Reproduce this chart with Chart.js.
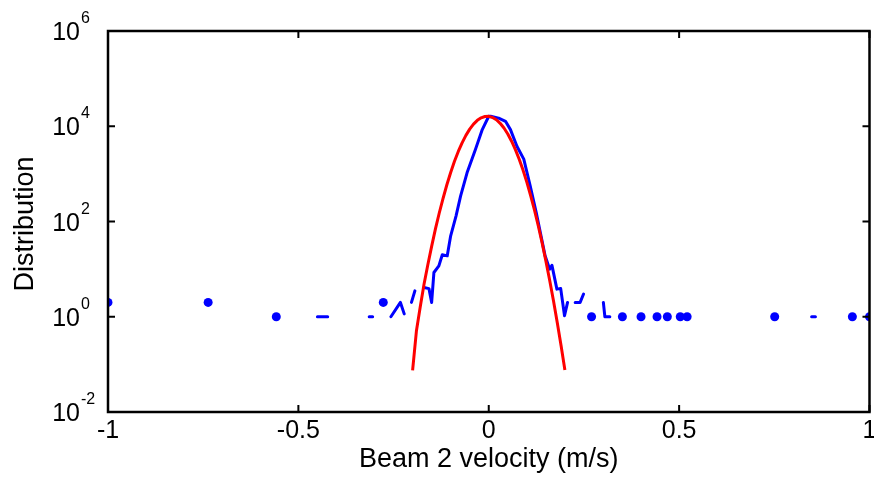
<!DOCTYPE html>
<html>
<head>
<meta charset="utf-8">
<script src="https://cdn.jsdelivr.net/npm/chart.js@4.4.1/dist/chart.umd.min.js"></script>
<style>
  html, body { margin: 0; padding: 0; background: #fff; }
  canvas { display: block; }
</style>
</head>
<body>
<canvas id="chart" width="874" height="488"></canvas>
<script>
// axis ticks
var xTicks = [-1, -0.5, 0, 0.5, 1];
var xTickLabels = ['-1', '-0.5', '0', '0.5', '1'];
var yTicks = [1e-2, 1e0, 1e2, 1e4, 1e6];
var yTickExps = ['-2', '0', '2', '4', '6'];

// measured histogram (null = empty bin, breaks the line)
var blueX = [-1.000, -0.86, -0.737, -0.65, -0.558, -0.50, -0.450, -0.423, -0.36, -0.314, -0.305, -0.29,
  -0.277, -0.267, -0.257, -0.232, -0.222, -0.212, -0.203, -0.194, -0.18,
  -0.170, -0.157, -0.150, -0.144, -0.131, -0.122, -0.109, -0.100, -0.086, -0.074, -0.057, -0.035, -0.017,
  0.000, 0.005, 0.026, 0.044, 0.057, 0.074, 0.092, 0.109, 0.125, 0.148, 0.160, 0.166, 0.179, 0.189, 0.199, 0.207,
  0.217, 0.227, 0.240, 0.249, 0.26, 0.270, 0.285, 0.301, 0.305, 0.318, 0.33, 0.351, 0.37, 0.400, 0.42, 0.442,
  0.455, 0.469, 0.485, 0.503, 0.512, 0.521, 0.64, 0.751, 0.80, 0.848, 0.858, 0.90, 0.955, 0.98, 1.000];
var blueY = [2, null, 2, null, 1, null, 1, 1, null, 1, 1, null,
  2, null, 1, 2, 1.15, null, 2, 3.5, null,
  4.1, 3.9, 2, 8.5, 11.7, 20, 19, 50, 130, 340, 1050, 3240, 8500,
  16200, 16200, 14800, 12700, 8500, 3800, 2040, 553, 150, 19, 10, 12, 3.8, 3.9, 1.05, 2,
  null, 2, 2, 3, null, 1, null, 2, 1, 1, null, 1, null, 1, null, 1,
  null, 1, null, 1, null, 1, null, 1, null, 1, 1, null, 1, null, 1];

// fitted curve
var redX = [-0.20, -0.19, -0.18, -0.17, -0.16, -0.15, -0.14, -0.13, -0.12, -0.11, -0.10,
  -0.09, -0.08, -0.07, -0.06, -0.05, -0.04, -0.03, -0.02, -0.01, 0.00,
  0.01, 0.02, 0.03, 0.04, 0.05, 0.06, 0.07, 0.08, 0.09, 0.10,
  0.11, 0.12, 0.13, 0.14, 0.15, 0.16, 0.17, 0.18, 0.19, 0.20];
var redY = [0.075, 0.5, 1.6, 4.8, 12.4, 30, 70, 151, 307, 591, 1072,
  1834, 2955, 4490, 6436, 8690, 11070, 13290, 15040, 16040, 16140,
  15310, 13680, 11530, 9170, 6870, 4850, 3230, 2030, 1200, 670,
  352, 175, 82, 36, 14.9, 5.85, 2.16, 0.75, 0.247, 0.076];

var FONT = '"Liberation Sans", Arial, Helvetica, sans-serif';

function pairs(xs, ys) {
    return xs.map(function (x, i) { return {x: x, y: ys[i]}; });
}

var frame = {
    id: 'frame',
    afterDatasetsDraw: function (chart) {
        var ctx = chart.ctx, a = chart.chartArea;
        var xs = chart.scales.x, ys = chart.scales.y;
        ctx.save();
        ctx.strokeStyle = '#000';
        ctx.lineWidth = 2;
        ctx.beginPath();
        xTicks.forEach(function (v) {
            var px = xs.getPixelForValue(v);
            ctx.moveTo(px, a.bottom); ctx.lineTo(px, a.bottom - 7);
            ctx.moveTo(px, a.top); ctx.lineTo(px, a.top + 7);
        });
        yTicks.forEach(function (v) {
            var py = ys.getPixelForValue(v);
            ctx.moveTo(a.left, py); ctx.lineTo(a.left + 7, py);
            ctx.moveTo(a.right, py); ctx.lineTo(a.right - 7, py);
        });
        ctx.stroke();
        ctx.lineWidth = 2.5;
        ctx.strokeRect(a.left, a.top, a.right - a.left, a.bottom - a.top);

        ctx.fillStyle = '#000';
        ctx.textBaseline = 'alphabetic';
        ctx.textAlign = 'center';
        ctx.font = '25px ' + FONT;
        xTicks.forEach(function (v, i) {
            ctx.fillText(xTickLabels[i], xs.getPixelForValue(v), a.bottom + 26);
        });
        yTicks.forEach(function (v, i) {
            var py = ys.getPixelForValue(v);
            ctx.textAlign = 'right';
            ctx.font = '25px ' + FONT;
            ctx.fillText('10', 80, py + 9);
            ctx.textAlign = 'left';
            ctx.font = '16px ' + FONT;
            ctx.fillText(yTickExps[i], 81, py - 8);
        });

        ctx.font = '27px ' + FONT;
        ctx.textAlign = 'center';
        ctx.fillText('Beam 2 velocity (m/s)', (a.left + a.right) / 2, 467);
        ctx.translate(33, 224);
        ctx.rotate(-Math.PI / 2);
        ctx.fillText('Distribution', 0, 0);
        ctx.restore();
    }
};

function isolated(i) {
    if (blueY[i] == null) return false;
    return blueY[i - 1] == null && blueY[i + 1] == null;
}

new Chart(document.getElementById('chart'), {
    type: 'line',
    data: {
        datasets: [{
            label: 'fit',
            data: pairs(redX, redY),
            borderColor: '#ff0000',
            borderWidth: 3,
            pointRadius: 0,
            borderJoinStyle: 'round',
            order: 0
        }, {
            label: 'beam 2',
            data: pairs(blueX, blueY),
            borderColor: '#0000ff',
            backgroundColor: '#0000ff',
            borderWidth: 3,
            borderCapStyle: 'round',
            borderJoinStyle: 'round',
            spanGaps: false,
            pointRadius: function (c) { return isolated(c.dataIndex) ? 4.5 : 0; },
            pointBorderWidth: 0,
            pointBackgroundColor: '#0000ff',
            clip: 0,
            order: 1
        }]
    },
    options: {
        responsive: false,
        animation: false,
        devicePixelRatio: 1,
        layout: { padding: { left: 108, right: 2, top: 31, bottom: 76 } },
        plugins: { legend: { display: false }, tooltip: { enabled: false } },
        scales: {
            x: { type: 'linear', min: -1, max: 1, display: false },
            y: { type: 'logarithmic', min: 1e-2, max: 1e6, display: false }
        }
    },
    plugins: [frame]
});
</script>
</body>
</html>
